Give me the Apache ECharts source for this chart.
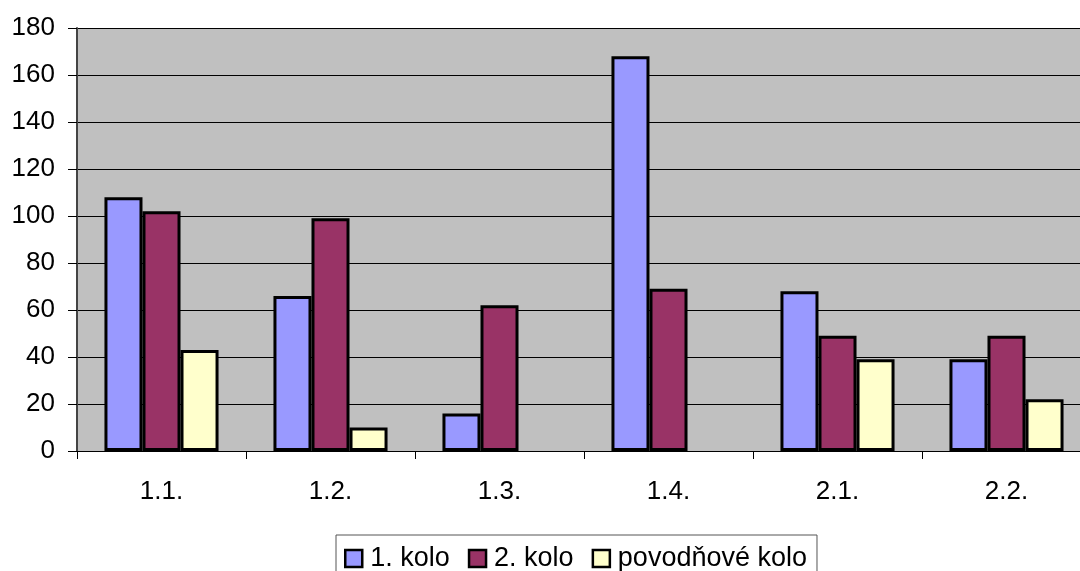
<!DOCTYPE html>
<html>
<head>
<meta charset="utf-8">
<script src="https://cdn.jsdelivr.net/npm/echarts@6/dist/echarts.min.js"></script>
<style>
    html, body {margin: 0; padding: 0; background: #fff;}
    #main {width: 1080px; height: 571px;}
</style>
</head>
<body>
<div id="main"></div>
<script>
// categories and series values
let categories = ['1.1.', '1.2.', '1.3.', '1.4.', '2.1.', '2.2.']
let seriesNames = ['1. kolo', '2. kolo', 'povodňové kolo']
let kolo1 = [108, 66, 16, 168, 68, 39]
let kolo2 = [102, 99, 62, 69, 49, 49]
let povodnove = [43, 10, 0, 0, 39, 22]
let yTicks = [0, 20, 40, 60, 80, 100, 120, 140, 160, 180]

let colors = ['#9999FF', '#993366', '#FFFFCC']
let font = 'Arial, "Liberation Sans", sans-serif'

let myChart = echarts.init(document.getElementById('main'))

// zero-height bars get no outline, like the original
let makeSeries = (name, data, color) => ({
    name: name,
    type: 'bar',
    data: data.map(v => v === 0 ? {value: v, itemStyle: {borderWidth: 0}} : v),
    barGap: '0%',
    barCategoryGap: '32.5%',
    itemStyle: {color: color, borderColor: '#000', borderWidth: 3},
    emphasis: {disabled: true}
})

let option = {
    animation: false,
    backgroundColor: '#fff',
    grid: {
        left: 77,
        width: 1014,
        top: 28,
        bottom: 120,
        outerBoundsMode: 'none',
        containLabel: false,
        show: true,
        backgroundColor: '#C0C0C0',
        borderWidth: 0
    },
    legend: {
        top: 535,
        left: 336,
        data: seriesNames,
        icon: 'rect',
        itemWidth: 17,
        itemHeight: 17,
        itemGap: 18,
        borderColor: '#555',
        borderWidth: 1,
        padding: [10, 10, 8, 8],
        textStyle: {fontFamily: font, fontSize: 27, color: '#000', padding: [0, 0, 0, 3]},
        itemStyle: {borderColor: '#000', borderWidth: 2.5}
    },
    xAxis: {
        type: 'category',
        data: categories,
        axisLine: {lineStyle: {color: '#000', width: 1}},
        axisTick: {show: true, length: 8, lineStyle: {color: '#000'}},
        axisLabel: {fontFamily: font, fontSize: 26, color: '#000', margin: 28},
        splitLine: {show: false}
    },
    yAxis: {
        type: 'value',
        min: yTicks[0],
        max: yTicks[yTicks.length - 1],
        interval: 20,
        axisLine: {show: true, lineStyle: {color: '#444', width: 2}},
        axisTick: {show: true, length: 9, lineStyle: {color: '#000'}},
        axisLabel: {fontFamily: font, fontSize: 26, color: '#000', margin: 22},
        splitLine: {show: true, lineStyle: {color: '#000', width: 1}}
    },
    series: [
        makeSeries(seriesNames[0], kolo1, colors[0]),
        makeSeries(seriesNames[1], kolo2, colors[1]),
        makeSeries(seriesNames[2], povodnove, colors[2])
    ]
}
myChart.setOption(option)
</script>
</body>
</html>
